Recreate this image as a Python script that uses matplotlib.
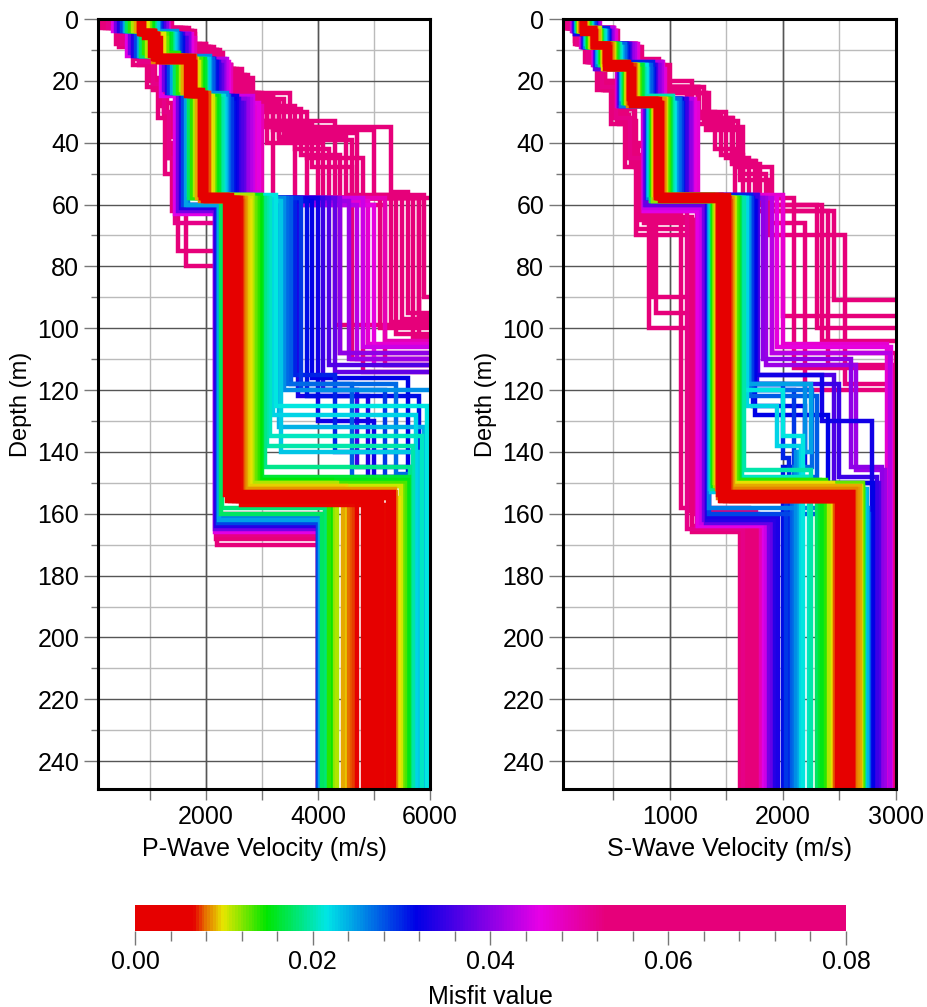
#!/usr/bin/env python
# -*- coding: utf-8 -*-
'''
Ensemble of Vp / Vs layered profiles, coloured by misfit
'''
import matplotlib
matplotlib.use('Agg')
import matplotlib.pyplot as plt
import matplotlib.colorbar as mcolorbar
from matplotlib.colors import LinearSegmentedColormap, Normalize
from matplotlib.ticker import MultipleLocator, FixedLocator

plt.rcParams['font.family'] = ['Liberation Sans', 'DejaVu Sans']

MAX_DEPTH = 249
MISFIT_MAX = 0.08

# ---- misfit of every model (same model gives the Vp and the Vs profile) ----
MISFIT = [0.0030, 0.0035, 0.0040, 0.0045, 0.0050, 0.0055, 0.0062, 0.0068, 0.0076, 0.0082,
          0.0090, 0.0098, 0.0110, 0.0125, 0.0140, 0.0155,
          0.0175, 0.0190, 0.0205, 0.0215, 0.0230, 0.0245,
          0.0270, 0.0285, 0.0300, 0.0310, 0.0325, 0.0340,
          0.0365, 0.0385, 0.0400, 0.0425, 0.0450, 0.0470,
          0.052, 0.055, 0.058, 0.061, 0.064, 0.067, 0.070, 0.072, 0.075, 0.078, 0.080,
          0.0010, 0.0015, 0.0020, 0.0025, 0.0058, 0.0065, 0.0072, 0.0079, 0.0086, 0.0094,
          0.0105, 0.0118, 0.0132, 0.0148, 0.0165, 0.0182, 0.0198,
          0.0222, 0.0238, 0.0255, 0.0262, 0.0278, 0.0292,
          0.0318, 0.0332, 0.0350, 0.0375, 0.0412, 0.0438, 0.0460, 0.0490,
          0.053, 0.057, 0.060, 0.063, 0.066, 0.069, 0.073, 0.076, 0.079]

# ---- P-wave: layer tops (m) and velocities (m/s) ----
P_TOPS = [
  [0, 5, 13, 24, 58, 155], [0, 4, 12, 23, 57, 154], [0, 5, 14, 25, 59, 156],
  [0, 4, 13, 24, 58, 153], [0, 5, 12, 25, 57, 156], [0, 6, 14, 24, 58, 155],
  [0, 4, 13, 23, 59, 154], [0, 5, 13, 25, 58, 157], [0, 5, 12, 24, 58, 155],
  [0, 4, 14, 24, 59, 153],
  [0, 4, 12, 24, 58, 152], [0, 5, 13, 25, 59, 155], [0, 4, 12, 23, 57, 150],
  [0, 6, 14, 26, 58, 151], [0, 4, 11, 24, 58, 150], [0, 5, 13, 25, 57, 149],
  [0, 4, 12, 24, 58, 160], [0, 5, 14, 26, 58, 145], [0, 5, 13, 25, 58, 135],
  [0, 4, 12, 24, 57, 125], [0, 5, 13, 26, 59, 140], [0, 4, 12, 24, 60, 162],
  [0, 5, 14, 25, 58, 118, 147], [0, 4, 12, 24, 60, 163], [0, 5, 13, 26, 58, 115, 140],
  [0, 6, 14, 27, 59, 122, 150], [0, 5, 13, 25, 58, 130, 148], [0, 4, 12, 24, 61, 164],
  [0, 6, 15, 27, 58, 112], [0, 4, 11, 23, 62, 165], [0, 5, 14, 26, 58, 108],
  [0, 5, 13, 26, 60, 110], [0, 4, 12, 25, 63, 166], [0, 6, 15, 28, 59, 105],
  [0, 3, 8, 14, 21, 30, 45, 66, 167], [0, 3, 9, 16, 24, 33, 58, 100],
  [0, 2, 7, 13, 20, 28, 40, 62, 168], [0, 4, 10, 17, 25, 35, 56, 95],
  [0, 3, 8, 15, 22, 32, 50, 75, 170], [0, 4, 10, 18, 27, 38, 57, 90],
  [0, 3, 7, 13, 19, 27, 38, 58, 80, 166], [0, 5, 11, 20, 30, 45, 58, 102],
  [0, 3, 9, 15, 23, 31, 45, 60, 160], [0, 4, 10, 16, 24, 34, 48, 60, 112],
  [0, 3, 8, 14, 22, 35, 58, 96],
  [0, 5, 13, 24, 58, 155], [0, 4, 13, 24, 58, 156], [0, 5, 12, 25, 58, 154],
  [0, 5, 13, 24, 57, 155], [0, 4, 13, 25, 58, 156], [0, 5, 14, 24, 58, 155],
  [0, 5, 13, 25, 59, 154], [0, 4, 12, 24, 58, 153], [0, 5, 13, 24, 58, 152],
  [0, 4, 12, 23, 58, 151], [0, 5, 14, 25, 58, 151], [0, 4, 12, 24, 57, 150],
  [0, 5, 13, 26, 58, 150], [0, 4, 11, 23, 58, 149], [0, 5, 13, 25, 58, 148],
  [0, 4, 12, 24, 58, 158], [0, 5, 14, 26, 58, 138], [0, 5, 13, 25, 58, 128],
  [0, 5, 14, 26, 59, 132], [0, 4, 12, 24, 58, 120], [0, 4, 12, 24, 60, 161],
  [0, 5, 13, 25, 58, 118, 148], [0, 5, 14, 26, 58, 120, 150],
  [0, 6, 14, 26, 59, 116, 146], [0, 5, 13, 25, 58, 122, 150],
  [0, 5, 14, 26, 58, 120, 145], [0, 6, 15, 27, 58, 114], [0, 5, 14, 26, 59, 110],
  [0, 5, 13, 25, 58, 106], [0, 5, 14, 27, 60, 112], [0, 6, 15, 28, 58, 104],
  [0, 3, 9, 16, 25, 35, 58, 108], [0, 4, 10, 18, 26, 37, 58, 98],
  [0, 3, 8, 15, 24, 34, 58, 110], [0, 4, 9, 17, 26, 40, 58, 103],
  [0, 4, 10, 18, 28, 42, 58, 114], [0, 3, 9, 16, 25, 36, 57, 97],
  [0, 4, 10, 19, 29, 44, 58, 105], [0, 3, 8, 15, 24, 33, 58, 92],
  [0, 4, 9, 17, 27, 39, 58, 99]]
P_VEL = [
  [850, 1100, 1750, 1950, 2450, 5100], [800, 1050, 1700, 1900, 2400, 5250],
  [900, 1150, 1800, 2000, 2500, 4950], [850, 1100, 1750, 1950, 2550, 5350],
  [800, 1000, 1650, 1900, 2380, 4800], [900, 1200, 1800, 2000, 2600, 5000],
  [850, 1100, 1750, 1950, 2350, 4700], [820, 1080, 1700, 1930, 2620, 5200],
  [880, 1150, 1800, 2050, 2650, 4600], [800, 1050, 1700, 1900, 2680, 5400],
  [750, 1000, 1600, 1850, 2720, 4450], [950, 1250, 1850, 2100, 2780, 5450],
  [700, 950, 1550, 1800, 2820, 4350], [1000, 1300, 1900, 2150, 2880, 5520],
  [650, 900, 1500, 1750, 2930, 4200], [1050, 1350, 1950, 2200, 2980, 5600],
  [600, 850, 1450, 1700, 2270, 4080], [1100, 1400, 2000, 2250, 3050, 5650],
  [1050, 1400, 1950, 2300, 3150, 5850], [600, 850, 1450, 1700, 3250, 5950],
  [1150, 1450, 2050, 2350, 3350, 5800], [550, 800, 1400, 1650, 2230, 4030],
  [1150, 1500, 2100, 2400, 3450, 5400, 6300], [500, 750, 1350, 1600, 2210, 4000],
  [1200, 1550, 2150, 2450, 3600, 4300, 6400], [1200, 1600, 2200, 2500, 3800, 5800, 6500],
  [1150, 1500, 2150, 2550, 4000, 5000, 6200], [450, 700, 1300, 1550, 2190, 4000],
  [1250, 1650, 2250, 2650, 4200, 6600], [400, 650, 1250, 1500, 2170, 4020],
  [1300, 1700, 2300, 2700, 4400, 6500], [1200, 1650, 2350, 2800, 4700, 6800],
  [350, 600, 1200, 1450, 2160, 4050], [1300, 1750, 2400, 2900, 4900, 6600],
  [250, 500, 800, 1050, 1250, 1350, 1450, 2200, 4100],
  [1200, 1700, 2000, 2500, 3000, 4300, 5100, 6500],
  [200, 450, 750, 1000, 1200, 1300, 1400, 2180, 4000],
  [1100, 1600, 2100, 2600, 3100, 5300, 5600, 6800],
  [150, 400, 700, 950, 1150, 1280, 1500, 2200, 4200],
  [1300, 1750, 2200, 2700, 3300, 4500, 5900, 6600],
  [300, 550, 850, 1100, 1300, 1400, 1500, 1650, 2200, 4000],
  [1400, 1800, 2300, 2800, 3800, 4800, 5400, 6700],
  [200, 450, 800, 1050, 1250, 1350, 1450, 2250, 4300],
  [1250, 1700, 2150, 2650, 3500, 3900, 4600, 5200, 6500],
  [1000, 1500, 1900, 2300, 2700, 3200, 5800, 6700],
  [860, 1120, 1760, 1960, 2480, 5150], [830, 1080, 1720, 1920, 2430, 5050],
  [870, 1130, 1780, 1980, 2520, 5280], [840, 1090, 1740, 1940, 2460, 4900],
  [820, 1060, 1710, 1920, 2570, 4850], [880, 1140, 1790, 2000, 2400, 5300],
  [860, 1110, 1770, 1990, 2640, 4650], [840, 1090, 1730, 1950, 2660, 4550],
  [900, 1170, 1820, 2060, 2700, 5380], [780, 1020, 1620, 1880, 2750, 4500],
  [960, 1260, 1870, 2120, 2800, 5480], [720, 980, 1580, 1830, 2850, 4300],
  [1000, 1300, 1920, 2170, 2900, 5560], [680, 920, 1520, 1770, 2960, 4250],
  [1060, 1380, 1980, 2230, 3000, 5630], [620, 870, 1470, 1720, 2290, 4120],
  [1080, 1420, 2000, 2280, 3100, 5700], [1100, 1430, 2020, 2320, 3200, 5750],
  [1120, 1460, 2060, 2360, 3300, 5900], [1140, 1480, 2080, 2380, 3400, 6100],
  [560, 820, 1420, 1680, 2240, 4060],
  [1160, 1510, 2120, 2420, 3520, 4600, 6200], [1180, 1530, 2140, 2460, 3700, 5200, 6300],
  [1200, 1580, 2180, 2520, 3900, 5600, 6400], [1170, 1520, 2130, 2480, 3650, 4900, 6300],
  [1220, 1600, 2230, 2600, 4100, 4700, 6500], [1260, 1660, 2280, 2680, 4300, 6600],
  [1280, 1700, 2330, 2750, 4550, 6700], [1300, 1720, 2380, 2850, 4800, 6600],
  [1320, 1760, 2420, 2950, 5000, 6800], [1350, 1800, 2450, 3000, 5200, 6700],
  [1150, 1650, 2050, 2550, 3200, 4000, 4400, 6600],
  [1250, 1700, 2150, 2650, 3400, 4700, 5300, 6600],
  [1100, 1550, 2000, 2450, 2900, 3600, 4600, 6800],
  [1200, 1650, 2100, 2550, 3100, 4100, 5700, 6700],
  [1300, 1750, 2200, 2750, 3600, 4200, 4800, 6900],
  [1150, 1600, 2050, 2500, 3200, 5000, 5500, 6600],
  [1350, 1800, 2250, 2850, 3700, 4400, 5800, 6800],
  [1100, 1550, 2000, 2450, 2950, 3800, 6200, 6700],
  [1250, 1700, 2150, 2600, 3300, 4600, 4300, 6600]]

# ---- S-wave: layer tops (m) and velocities (m/s) ----
S_TOPS = [
  [0, 4, 8, 15, 27, 58, 155], [0, 4, 9, 15, 26, 57, 154], [0, 3, 8, 16, 27, 58, 156],
  [0, 4, 8, 15, 28, 59, 155], [0, 4, 9, 14, 26, 58, 153], [0, 5, 9, 16, 27, 58, 156],
  [0, 4, 8, 15, 27, 57, 155], [0, 4, 9, 16, 26, 58, 154], [0, 3, 8, 15, 27, 59, 156],
  [0, 4, 9, 14, 28, 58, 152],
  [0, 4, 8, 15, 26, 58, 151], [0, 4, 9, 16, 27, 57, 150], [0, 3, 8, 15, 26, 58, 152],
  [0, 4, 9, 15, 27, 59, 150], [0, 4, 8, 16, 26, 58, 149], [0, 4, 9, 14, 27, 57, 151],
  [0, 4, 8, 15, 26, 58, 150], [0, 3, 9, 15, 27, 59, 152], [0, 4, 8, 16, 25, 58, 148],
  [0, 4, 9, 15, 27, 58, 120, 135], [0, 4, 8, 14, 26, 57, 153],
  [0, 4, 9, 16, 27, 58, 118, 140],
  [0, 4, 8, 15, 26, 58, 120, 145], [0, 4, 9, 15, 28, 58, 160],
  [0, 3, 8, 14, 26, 57, 118, 142],
  [0, 4, 9, 16, 27, 58, 125, 145], [0, 4, 8, 15, 26, 59, 115, 130],
  [0, 5, 9, 15, 27, 58, 162],
  [0, 4, 8, 15, 26, 57, 115, 150], [0, 4, 9, 16, 28, 60, 162],
  [0, 4, 8, 15, 27, 58, 110, 145], [0, 3, 8, 14, 26, 58, 108],
  [0, 4, 9, 15, 28, 62, 164], [0, 4, 8, 16, 27, 57, 105],
  [0, 3, 8, 14, 22, 32, 45, 62, 165], [0, 3, 8, 13, 20, 30, 45, 60, 100],
  [0, 3, 7, 13, 21, 30, 42, 65, 163], [0, 4, 9, 15, 22, 33, 48, 62, 91],
  [0, 3, 8, 14, 23, 34, 48, 70, 160], [0, 3, 8, 14, 22, 30, 42, 58, 113],
  [0, 3, 7, 12, 20, 29, 40, 58, 90, 166], [0, 4, 9, 15, 24, 35, 50, 66, 120],
  [0, 3, 8, 13, 21, 31, 44, 62, 100, 162], [0, 3, 8, 14, 22, 32, 46, 62, 112],
  [0, 3, 8, 14, 23, 33, 47, 63, 158],
  [0, 4, 8, 15, 27, 58, 155], [0, 4, 9, 15, 27, 58, 156], [0, 4, 8, 16, 26, 58, 154],
  [0, 4, 8, 15, 27, 57, 155], [0, 4, 9, 15, 26, 58, 155], [0, 4, 8, 16, 27, 58, 154],
  [0, 4, 8, 15, 27, 58, 153], [0, 4, 9, 15, 27, 58, 155], [0, 4, 8, 15, 26, 58, 152],
  [0, 4, 9, 16, 27, 57, 151], [0, 3, 8, 15, 26, 58, 151], [0, 4, 9, 15, 27, 59, 151],
  [0, 4, 8, 16, 26, 58, 150], [0, 4, 9, 14, 27, 57, 150], [0, 4, 8, 15, 26, 58, 149],
  [0, 3, 9, 15, 27, 59, 151], [0, 4, 8, 16, 25, 58, 146],
  [0, 4, 9, 15, 27, 58, 125, 138],
  [0, 4, 8, 14, 26, 57, 152], [0, 4, 9, 16, 27, 58, 118, 140],
  [0, 4, 9, 15, 28, 58, 158],
  [0, 4, 8, 15, 26, 58, 122, 148], [0, 4, 9, 16, 27, 58, 120, 150],
  [0, 4, 8, 15, 26, 59, 128, 150], [0, 5, 9, 15, 27, 58, 161],
  [0, 4, 8, 15, 26, 57, 118, 148], [0, 4, 9, 16, 28, 60, 163],
  [0, 4, 8, 15, 27, 58, 112, 146], [0, 4, 9, 15, 28, 61, 163],
  [0, 3, 8, 14, 26, 58, 106], [0, 4, 9, 15, 28, 62, 164],
  [0, 3, 8, 14, 22, 32, 45, 64, 164], [0, 4, 9, 15, 23, 34, 47, 60, 104],
  [0, 3, 7, 13, 21, 31, 43, 68, 161], [0, 3, 8, 14, 22, 31, 44, 58, 96],
  [0, 3, 8, 14, 23, 33, 47, 66, 159], [0, 4, 9, 16, 24, 36, 52, 70, 118],
  [0, 3, 7, 12, 20, 29, 41, 60, 95, 165], [0, 3, 8, 14, 22, 32, 46, 62, 108],
  [0, 3, 8, 14, 23, 34, 48, 65, 160]]
S_VEL = [
  [230, 330, 450, 650, 900, 1470, 2560], [220, 320, 430, 640, 880, 1450, 2520],
  [240, 340, 460, 670, 920, 1490, 2600], [230, 330, 440, 660, 910, 1460, 2490],
  [250, 350, 470, 640, 890, 1500, 2620], [220, 320, 430, 680, 930, 1440, 2540],
  [240, 340, 450, 650, 900, 1520, 2480], [230, 330, 460, 660, 880, 1430, 2600],
  [250, 350, 480, 690, 940, 1540, 2460], [210, 310, 420, 630, 870, 1420, 2650],
  [260, 370, 500, 700, 960, 1560, 2680], [200, 300, 410, 620, 860, 1410, 2440],
  [270, 380, 510, 720, 970, 1580, 2410], [200, 290, 400, 610, 850, 1390, 2700],
  [280, 390, 520, 740, 990, 1600, 2380], [190, 280, 390, 600, 840, 1380, 2350],
  [290, 400, 540, 760, 1010, 1620, 2300], [180, 270, 380, 590, 830, 1370, 2720],
  [300, 420, 560, 780, 1030, 1640, 2230],
  [300, 420, 560, 790, 1040, 1660, 2000, 2180], [180, 260, 370, 580, 820, 1360, 2730],
  [310, 430, 580, 800, 1050, 1680, 2250, 2140],
  [320, 440, 600, 820, 1080, 1700, 2260, 2100], [170, 250, 360, 570, 810, 1350, 2760],
  [330, 450, 620, 850, 1100, 1720, 2000, 2050],
  [340, 460, 630, 860, 1120, 1740, 2200, 2000], [330, 450, 610, 840, 1100, 1760, 2350, 2790],
  [160, 240, 350, 560, 800, 1330, 1930],
  [350, 470, 650, 880, 1150, 1780, 2450, 2850], [150, 230, 340, 550, 780, 1300, 1880],
  [360, 480, 660, 900, 1180, 1820, 2600, 2880], [370, 500, 690, 930, 1200, 1900, 2950],
  [140, 220, 330, 540, 770, 1250, 1830], [380, 520, 720, 960, 1250, 2000, 2920],
  [100, 180, 280, 400, 520, 650, 760, 1150, 1650],
  [300, 500, 700, 900, 1200, 1500, 1700, 2300, 3100],
  [90, 170, 260, 380, 500, 620, 720, 1250, 1700],
  [320, 520, 720, 950, 1300, 1600, 1900, 2450, 3100],
  [80, 160, 250, 360, 480, 600, 700, 1300, 1750],
  [280, 480, 680, 880, 1150, 1400, 1580, 2100, 2980],
  [110, 190, 290, 410, 540, 680, 780, 850, 1200, 1620],
  [350, 540, 750, 1000, 1350, 1650, 1850, 2200, 3050],
  [100, 180, 280, 390, 510, 640, 740, 820, 1350, 1800],
  [300, 500, 700, 920, 1250, 1550, 1750, 2400, 3100],
  [120, 200, 300, 430, 560, 700, 820, 1100, 1700],
  [235, 335, 455, 655, 905, 1475, 2570], [225, 325, 440, 645, 890, 1455, 2530],
  [240, 340, 465, 665, 915, 1485, 2590], [230, 330, 450, 655, 900, 1465, 2550],
  [235, 335, 445, 650, 895, 1510, 2610], [225, 325, 455, 670, 915, 1445, 2500],
  [245, 345, 470, 680, 925, 1530, 2630], [220, 320, 430, 640, 875, 1425, 2470],
  [255, 360, 490, 695, 950, 1550, 2660], [205, 305, 415, 625, 865, 1415, 2450],
  [265, 375, 505, 710, 965, 1570, 2690], [200, 295, 405, 615, 855, 1400, 2420],
  [275, 385, 515, 730, 980, 1590, 2710], [195, 285, 395, 605, 845, 1385, 2390],
  [285, 395, 530, 750, 1000, 1610, 2330], [185, 275, 385, 595, 835, 1375, 2710],
  [295, 410, 550, 770, 1020, 1660, 2250],
  [305, 425, 570, 795, 1045, 1680, 1950, 2160],
  [175, 255, 365, 575, 815, 1355, 2740], [315, 435, 590, 810, 1065, 1700, 2200, 2120],
  [170, 250, 360, 570, 810, 1350, 2750],
  [325, 445, 605, 830, 1090, 1710, 2300, 2080], [335, 455, 615, 845, 1110, 1730, 2100, 2030],
  [335, 455, 620, 850, 1105, 1750, 2400, 2800], [165, 245, 355, 565, 805, 1340, 1960],
  [345, 465, 640, 870, 1140, 1770, 2500, 2830], [155, 235, 345, 555, 790, 1320, 1900],
  [365, 490, 670, 910, 1190, 1850, 2650, 2900], [145, 225, 335, 545, 775, 1280, 1850],
  [375, 505, 700, 940, 1220, 1950, 2960], [135, 215, 325, 535, 765, 1240, 1810],
  [95, 175, 270, 390, 510, 640, 750, 1200, 1680],
  [310, 510, 710, 930, 1250, 1550, 1800, 2350, 3100],
  [85, 165, 255, 370, 490, 610, 710, 1280, 1720],
  [290, 490, 690, 890, 1180, 1450, 1650, 2000, 3100],
  [105, 185, 285, 410, 530, 660, 770, 1180, 1760],
  [340, 530, 740, 980, 1320, 1620, 1880, 2550, 3050],
  [110, 190, 290, 415, 545, 690, 800, 880, 1320, 1640],
  [305, 505, 705, 925, 1260, 1560, 1760, 1900, 3000],
  [115, 195, 295, 425, 555, 695, 810, 1230, 1780]]

# misfit colour scale
CMAP_STOPS = [0.0, 0.0065, 0.0078, 0.0098, 0.0147, 0.0215, 0.0316, 0.0455, 0.053, 0.08]
CMAP_COLORS = ['#e60000', '#e60000', '#e66e00', '#e6e600', '#00e600', '#00e6e6',
               '#0000e6', '#e600e6', '#e6007a', '#e6007a']
CB_TICKS = [0.00, 0.02, 0.04, 0.06, 0.08]

cmap = LinearSegmentedColormap.from_list(
  'misfit', [(s / MISFIT_MAX, c) for s, c in zip(CMAP_STOPS, CMAP_COLORS)])
norm = Normalize(0, MISFIT_MAX)


def step_profile(tops, vels, bottom):
  '''turn layer tops/velocities into a staircase line'''
  xs, ys = [], []
  for i, v in enumerate(vels):
    base = tops[i + 1] if i + 1 < len(tops) else bottom
    xs += [v, v]
    ys += [tops[i], base]
  return xs, ys


def draw_panel(ax, misfit, tops, vels, xlim, xmajor, xminor, xlabels, xlabel):
  ax.set_axisbelow(True)
  # worst models first, best on top
  order = sorted(range(len(misfit)), key=lambda k: -misfit[k])
  for k in order:
    xs, ys = step_profile(tops[k], vels[k], MAX_DEPTH)
    ax.plot(xs, ys, color=cmap(norm(misfit[k])), lw=3.2,
            solid_joinstyle='miter', solid_capstyle='butt')
  ax.set_xlim(*xlim)
  ax.set_ylim(MAX_DEPTH, 0)
  ax.xaxis.set_major_locator(FixedLocator(xlabels))
  ax.xaxis.set_minor_locator(MultipleLocator(xminor))
  ax.yaxis.set_major_locator(MultipleLocator(20))
  ax.yaxis.set_minor_locator(MultipleLocator(10))
  ax.grid(which='major', color='#555555', lw=1.0)
  ax.grid(which='minor', color='#bbbbbb', lw=1.0)
  # dark grid at every xmajor step
  for gx in range(0, int(xlim[1]) + 1, xmajor):
    ax.axvline(gx, color='#555555', lw=1.0, zorder=0.6)
  ax.tick_params(which='both', direction='out', color='#777777', labelsize=18, width=1)
  ax.tick_params(axis='y', which='major', length=10)
  ax.tick_params(axis='y', which='minor', length=5)
  ax.tick_params(axis='x', which='both', length=8)
  ax.set_xlabel(xlabel, fontsize=18, labelpad=6)
  ax.set_ylabel('Depth (m)', fontsize=17, labelpad=4)
  for sp in ax.spines.values():
    sp.set_linewidth(2.2)
    sp.set_color('black')


fig = plt.figure(figsize=(9.27, 10.07), dpi=100)
ax_p = fig.add_axes([0.1057, 0.2165, 0.3581, 0.7646])
ax_s = fig.add_axes([0.6073, 0.2165, 0.3592, 0.7646])

draw_panel(ax_p, MISFIT, P_TOPS, P_VEL, (75, 6000), 2000, 1000,
           [2000, 4000, 6000], 'P-Wave Velocity (m/s)')
draw_panel(ax_s, MISFIT, S_TOPS, S_VEL, (55, 3000), 1000, 500,
           [1000, 2000, 3000], 'S-Wave Velocity (m/s)')

# colour bar
cax = fig.add_axes([0.1456, 0.0755, 0.767, 0.0258])
cb = mcolorbar.ColorbarBase(cax, cmap=cmap, norm=norm, orientation='horizontal')
cb.set_ticks(CB_TICKS)
cb.set_ticklabels(['%.2f' % t for t in CB_TICKS])
cax.xaxis.set_minor_locator(MultipleLocator(0.004))
cax.tick_params(which='both', direction='out', color='#777777', labelsize=18, width=1)
cax.tick_params(which='major', length=10)
cax.tick_params(which='minor', length=7)
cb.outline.set_visible(False)
cb.set_label('Misfit value', fontsize=18, labelpad=8)

plt.savefig('out.png', dpi=100)
